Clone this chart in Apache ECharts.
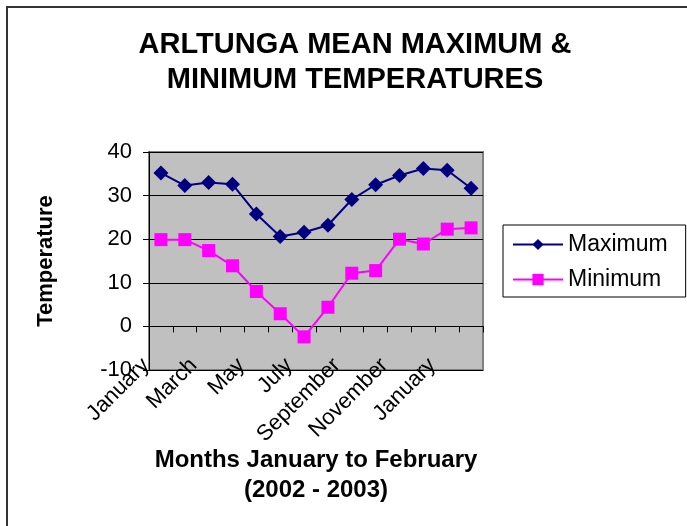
<!DOCTYPE html>
<html>
<head>
<meta charset="utf-8">
<script src="https://cdn.jsdelivr.net/npm/echarts@6/dist/echarts.min.js"></script>
<style>
  html, body { margin: 0; padding: 0; background: #fff; }
  #chart { width: 687px; height: 526px; }
</style>
</head>
<body>
<div id="chart"></div>
<script>
// Arltunga mean max/min temperatures, Jan 2002 – Feb 2003
const months = ["January", "February", "March", "April", "May", "June", "July", "August",
  "September", "October", "November", "December", "January", "February"];
const maxTemp = [35.2, 32.3, 33.0, 32.6, 25.8, 20.6, 21.6, 23.2, 29.1, 32.5, 34.6, 36.2, 35.8, 31.7];
const minTemp = [19.9, 19.9, 17.4, 13.9, 8.0, 2.9, -2.4, 4.4, 12.2, 12.8, 20.0, 18.9, 22.3, 22.6];

const FONT = "Arial, 'Liberation Sans', sans-serif";
const chart = echarts.init(document.getElementById("chart"), null, { renderer: "canvas" });

// plot box, as in the original; the label-only axis sits in a copy shifted a little left
const PLOT = { left: 149, right: 204, top: 152, bottom: 156 };
const LABEL_SHIFT = 15;

chart.setOption({
  animation: false,
  backgroundColor: "#fff",
  textStyle: { fontFamily: FONT, color: "#000" },
  // outer frame of the original chart object (right/bottom edges fall off the picture)
  graphic: [{
    type: "rect", silent: true, z: -10,
    shape: { x: 7, y: 7, width: 720, height: 560 },
    style: { fill: "none", stroke: "#333", lineWidth: 2 }
  }],
  title: {
    text: "ARLTUNGA MEAN MAXIMUM &\nMINIMUM TEMPERATURES",
    left: 350, top: 22, textAlign: "center",
    textStyle: { fontFamily: FONT, fontSize: 29, fontWeight: "bold", color: "#000", lineHeight: 35 }
  },
  legend: {
    orient: "vertical",
    left: 503, top: 225,
    padding: [8, 18, 6, 9],
    itemGap: 12,
    itemWidth: 50, itemHeight: 14,
    borderColor: "#000", borderWidth: 1,
    backgroundColor: "#fff",
    textStyle: { fontFamily: FONT, fontSize: 23, color: "#000" },
    data: ["Maximum", "Minimum"]
  },
  grid: [{
    left: PLOT.left, right: PLOT.right, top: PLOT.top, bottom: PLOT.bottom,
    show: true, backgroundColor: "#C0C0C0", borderColor: "#808080", borderWidth: 2
  }, {
    left: PLOT.left - LABEL_SHIFT, right: PLOT.right + LABEL_SHIFT, top: PLOT.top, bottom: PLOT.bottom
  }],
  xAxis: [{
    type: "category",
    gridIndex: 0,
    data: months,
    boundaryGap: true,
    axisLine: { onZero: true, lineStyle: { color: "#000", width: 1 } },
    axisTick: { show: true, inside: false, length: 6, interval: 0, lineStyle: { color: "#000" } },
    axisLabel: { show: false }
  }, {
    type: "category",
    gridIndex: 1,
    data: months,
    boundaryGap: true,
    position: "bottom",
    axisLine: { show: false, onZero: false },
    axisTick: { show: false },
    axisLabel: {
      interval: 1, rotate: 45, margin: -8,
      fontFamily: FONT, fontSize: 22, color: "#000"
    }
  }, {
    // axis title only, centred on the plot box
    type: "category",
    gridIndex: 0,
    data: months,
    position: "bottom",
    axisLine: { show: false, onZero: false },
    axisTick: { show: false },
    axisLabel: { show: false },
    name: "Months January to February\n(2002 - 2003)",
    nameLocation: "middle",
    nameGap: 75,
    nameMoveOverlap: false,
    nameTextStyle: { fontFamily: FONT, fontSize: 24, fontWeight: "bold", color: "#000", lineHeight: 30 }
  }],
  yAxis: [{
    type: "value",
    gridIndex: 0,
    min: -10, max: 40, interval: 10,
    axisLine: { show: true, lineStyle: { color: "#000" } },
    axisTick: { show: true, inside: false, length: 6, lineStyle: { color: "#000" } },
    axisLabel: { fontFamily: FONT, fontSize: 22, color: "#000", margin: 17 },
    splitLine: { show: true, lineStyle: { color: "#000", width: 1 } },
    name: "Temperature",
    nameLocation: "middle",
    nameGap: 92,
    nameRotate: 90,
    nameMoveOverlap: false,
    nameTextStyle: { fontFamily: FONT, fontSize: 22, fontWeight: "bold", color: "#000" }
  }, {
    type: "value",
    gridIndex: 1,
    min: -10, max: 40,
    show: false
  }],
  series: [{
    name: "Maximum",
    type: "line",
    xAxisIndex: 0, yAxisIndex: 0,
    data: maxTemp,
    symbol: "diamond",
    symbolSize: 15,
    lineStyle: { color: "#000080", width: 2 },
    itemStyle: { color: "#000080" }
  }, {
    name: "Minimum",
    type: "line",
    xAxisIndex: 0, yAxisIndex: 0,
    data: minTemp,
    symbol: "rect",
    symbolSize: 13,
    lineStyle: { color: "#FF00FF", width: 2 },
    itemStyle: { color: "#FF00FF" }
  }]
});
</script>
</body>
</html>
